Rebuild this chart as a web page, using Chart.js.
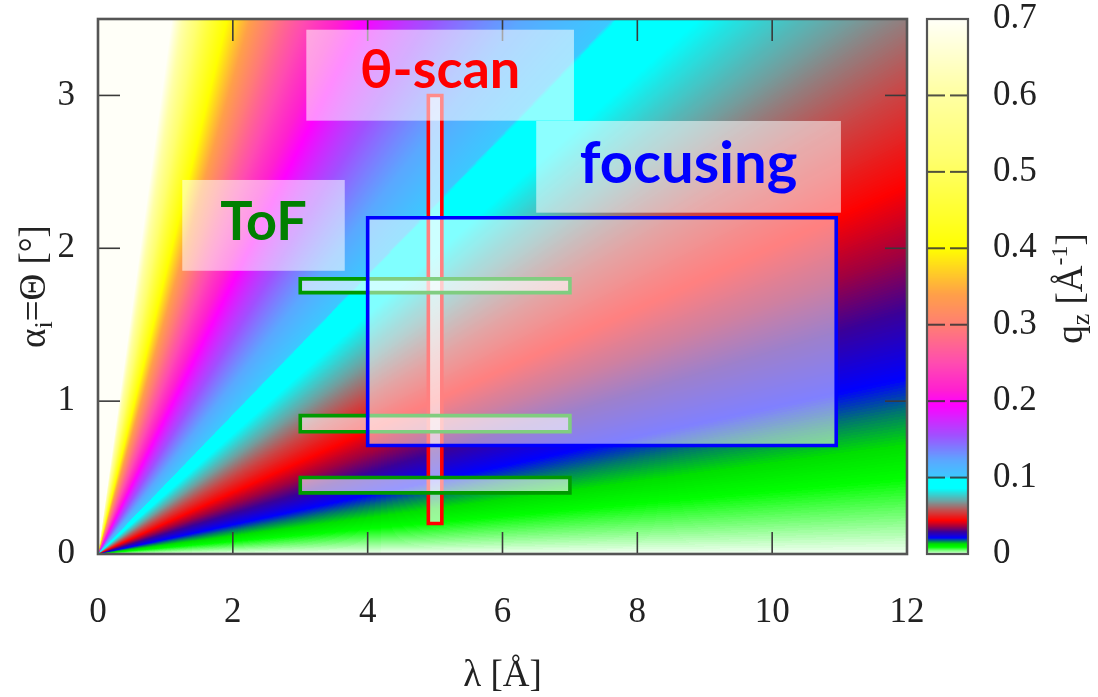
<!DOCTYPE html>
<html>
<head>
<meta charset="utf-8">
<script src="https://cdn.jsdelivr.net/npm/chart.js@4.4.1/dist/chart.umd.min.js"></script>
<style>
  html, body { margin: 0; padding: 0; background: #ffffff; }
  canvas { display: block; }
</style>
</head>
<body>
<canvas id="qzChart" width="1098" height="697"></canvas>
<script>
// ---- axes -----------------------------------------------------------
const lambdaRange = [0, 12];                 // λ [Å]
const lambdaTicks = [0, 2, 4, 6, 8, 10, 12];
const alphaRange = [0, 3.5];                 // α_i = Θ [°]
const alphaTicks = [0, 1, 2, 3];
const qzRange = [0, 0.7];                    // q_z [Å^-1]
const qzTicks = [0, 0.1, 0.2, 0.3, 0.4, 0.5, 0.6, 0.7];

// ---- measurement modes (λ interval × α interval) ---------------------
const thetaScanLambda = [4.9, 5.1];
const thetaScanAlpha = [0.2, 3.0];
const tofLambda = [3, 7];
const tofAlphaBands = [[1.71, 1.80], [0.80, 0.905], [0.40, 0.50]];
const focusingLambda = [4, 10.95];
const focusingAlpha = [0.71, 2.2];

const modeNames = ['θ-scan', 'ToF', 'focusing'];

// ---- colour palette for q_z -------------------------------------------
const paletteStops = [0, 0.009, 0.013, 0.017, 0.021, 0.029, 0.036, 0.044, 0.056, 0.069, 0.086, 0.0995,
                      0.1005, 0.122, 0.155, 0.195, 0.215, 0.250, 0.295, 0.340, 0.400, 0.440, 0.520,
                      0.610, 0.700];
const paletteColors = ['#f4fff4', '#00ff00', '#00e000', '#007a6a', '#0000ff', '#3a0098', '#a00040',
                       '#ff0000', '#c84848', '#70a0a0', '#00ffff', '#00ffff', '#3cc8ff', '#5aa8ff',
                       '#a050ff', '#ff00ff', '#ff20d0', '#ff4cb0', '#ff7a78', '#ffa048', '#ffff00',
                       '#ffff28', '#ffff70', '#ffffa8', '#fffff8'];

// momentum transfer for reflection geometry
function qz(lambda, alphaDeg) {
  return 4 * Math.PI * Math.sin(alphaDeg * Math.PI / 180) / lambda;
}

function hexToRgb(h) {
  return [parseInt(h.slice(1, 3), 16), parseInt(h.slice(3, 5), 16), parseInt(h.slice(5, 7), 16)];
}
const LUT_SIZE = 2048;
const paletteLut = (() => {
  const rgb = paletteColors.map(hexToRgb);
  const lut = new Uint8ClampedArray(LUT_SIZE * 3);
  for (let i = 0; i < LUT_SIZE; i++) {
    const v = qzRange[0] + (qzRange[1] - qzRange[0]) * i / (LUT_SIZE - 1);
    let k = 0;
    while (k < paletteStops.length - 2 && v > paletteStops[k + 1]) k++;
    const t = Math.min(1, Math.max(0, (v - paletteStops[k]) / (paletteStops[k + 1] - paletteStops[k])));
    for (let c = 0; c < 3; c++) lut[i * 3 + c] = rgb[k][c] + (rgb[k + 1][c] - rgb[k][c]) * t;
  }
  return lut;
})();
function colourIndex(v) {
  if (!isFinite(v)) v = qzRange[1];
  const t = (v - qzRange[0]) / (qzRange[1] - qzRange[0]);
  return Math.round(Math.min(1, Math.max(0, t)) * (LUT_SIZE - 1)) * 3;
}

// ---- rectangles as closed line datasets -------------------------------
const rectPoints = (xr, yr) => [
  {x: xr[0], y: yr[0]}, {x: xr[1], y: yr[0]}, {x: xr[1], y: yr[1]},
  {x: xr[0], y: yr[1]}, {x: xr[0], y: yr[0]}
];
const boxStyle = (colour, fillAlpha, order) => ({
  showLine: true, fill: 'shape', borderColor: colour,
  backgroundColor: `rgba(255,255,255,${fillAlpha})`, borderWidth: 3.6,
  pointRadius: 0, pointHoverRadius: 0, tension: 0,
  borderJoinStyle: 'miter', borderCapStyle: 'square', order
});

const datasets = [
  {label: modeNames[0], data: rectPoints(thetaScanLambda, thetaScanAlpha), ...boxStyle('#ff0000', 0.6, 3)},
  ...tofAlphaBands.map(band => ({label: modeNames[1], data: rectPoints(tofLambda, band), ...boxStyle('#009a00', 0.6, 2)})),
  {label: modeNames[2], data: rectPoints(focusingLambda, focusingAlpha), ...boxStyle('#0000ff', 0.5, 1)}
];

// ---- mode captions (boxes in data units) -------------------------------
const captions = [
  {text: modeNames[0], x: [3.09, 7.06], y: [2.835, 3.43], base: 3.049, size: 54, colour: '#ff0000'},
  {text: modeNames[1], x: [1.25, 3.66], y: [1.853, 2.447], base: 2.054, size: 54, colour: '#008000'},
  {text: modeNames[2], x: [6.50, 11.02], y: [2.233, 2.833], base: 2.425, size: 58, colour: '#0000ff'}
];

const SERIF = '"Liberation Serif", "Times New Roman", serif';
const TICK_FONT = {family: SERIF, size: 35, lineHeight: 1.2};
const TICK_COLOUR = '#222222';

function line(ctx, x0, y0, x1, y1) {
  ctx.beginPath(); ctx.moveTo(x0, y0); ctx.lineTo(x1, y1); ctx.stroke();
}

// heat map, frame, inward tick marks and colour bar
const mapPlugin = {
  id: 'qzMap',
  beforeDatasetsDraw(chart) {
    const {ctx, chartArea: a, scales} = chart;
    const xs = scales.x, ys = scales.y, cb = scales.cb;
    const w = Math.round(a.right - a.left), h = Math.round(a.bottom - a.top);
    const off = document.createElement('canvas');
    off.width = w; off.height = h;
    const octx = off.getContext('2d');
    const img = octx.createImageData(w, h);
    const lam = new Float64Array(w);
    for (let i = 0; i < w; i++) lam[i] = xs.getValueForPixel(a.left + i + 0.5);
    for (let j = 0; j < h; j++) {
      const alpha = ys.getValueForPixel(a.top + j + 0.5);
      for (let i = 0; i < w; i++) {
        const c = colourIndex(qz(lam[i], alpha));
        const k = (j * w + i) * 4;
        img.data[k] = paletteLut[c]; img.data[k + 1] = paletteLut[c + 1];
        img.data[k + 2] = paletteLut[c + 2]; img.data[k + 3] = 255;
      }
    }
    octx.putImageData(img, 0, 0);
    ctx.drawImage(off, a.left, a.top);

    ctx.save();
    // inward ticks on all four sides
    ctx.strokeStyle = '#3a3a3a'; ctx.lineWidth = 1.6;
    const TL = 22;
    xs.ticks.forEach(t => {
      if (t.value <= lambdaRange[0] || t.value >= lambdaRange[1]) return;
      const px = xs.getPixelForValue(t.value);
      line(ctx, px, a.bottom, px, a.bottom - TL);
      line(ctx, px, a.top, px, a.top + TL);
    });
    ys.ticks.forEach(t => {
      if (t.value <= alphaRange[0] || t.value >= alphaRange[1]) return;
      const py = ys.getPixelForValue(t.value);
      line(ctx, a.left, py, a.left + TL, py);
      line(ctx, a.right, py, a.right - TL, py);
    });
    ctx.strokeStyle = '#555555'; ctx.lineWidth = 2.6;
    ctx.strokeRect(a.left, a.top, a.right - a.left, a.bottom - a.top);

    // colour bar
    const bx0 = Math.round(a.right + 20), bx1 = Math.round(a.right + 61);
    const bh = Math.round(cb.bottom - cb.top);
    const bar = document.createElement('canvas');
    bar.width = bx1 - bx0; bar.height = bh;
    const bctx = bar.getContext('2d');
    const bimg = bctx.createImageData(bar.width, bh);
    for (let j = 0; j < bh; j++) {
      const c = colourIndex(cb.getValueForPixel(cb.top + j + 0.5));
      for (let i = 0; i < bar.width; i++) {
        const k = (j * bar.width + i) * 4;
        bimg.data[k] = paletteLut[c]; bimg.data[k + 1] = paletteLut[c + 1];
        bimg.data[k + 2] = paletteLut[c + 2]; bimg.data[k + 3] = 255;
      }
    }
    bctx.putImageData(bimg, 0, 0);
    ctx.drawImage(bar, bx0, cb.top);
    ctx.strokeStyle = 'rgba(50,50,50,0.85)'; ctx.lineWidth = 2;
    cb.ticks.forEach(t => {
      if (t.value <= qzRange[0] || t.value >= qzRange[1] - 1e-9) return;
      const py = cb.getPixelForValue(t.value);
      line(ctx, bx0, py, bx0 + 18, py);
      line(ctx, bx1 - 18, py, bx1, py);
    });
    ctx.strokeStyle = '#555555'; ctx.lineWidth = 2.2;
    ctx.strokeRect(bx0, cb.top, bx1 - bx0, cb.bottom - cb.top);
    ctx.restore();
  },
  afterDatasetsDraw(chart) {
    const {ctx, chartArea: a, scales: {x: xs, y: ys}} = chart;
    ctx.save();
    ctx.beginPath(); ctx.rect(a.left, a.top, a.right - a.left, a.bottom - a.top); ctx.clip();
    captions.forEach(c => {
      const x0 = xs.getPixelForValue(c.x[0]), x1 = xs.getPixelForValue(c.x[1]);
      const y0 = ys.getPixelForValue(c.y[1]), y1 = ys.getPixelForValue(c.y[0]);
      ctx.fillStyle = 'rgba(255,255,255,0.55)';
      ctx.fillRect(x0, y0, x1 - x0, y1 - y0);
      ctx.fillStyle = c.colour;
      ctx.font = `bold ${c.size}px Lato, "Open Sans", sans-serif`;
      ctx.textAlign = 'center'; ctx.textBaseline = 'alphabetic';
      ctx.fillText(c.text, (x0 + x1) / 2, ys.getPixelForValue(c.base));
    });
    ctx.restore();
  },
  afterDraw(chart) {
    const {ctx, chartArea: a} = chart;
    const cy = (a.top + a.bottom) / 2;
    drawRich(ctx, [{t: 'λ [Å]', s: 37}], (a.left + a.right) / 2, a.bottom + 132, 0);
    drawRich(ctx, [{t: 'α', s: 37}, {t: 'i', s: 26, dy: 7}, {t: '=Θ [°]', s: 37}], 45, cy, -Math.PI / 2);
    drawRich(ctx, [{t: 'q', s: 37}, {t: 'z', s: 26, dy: 7}, {t: ' [Å', s: 37}, {t: '-1', s: 24, dy: -15}, {t: ']', s: 37}],
             a.right + 175, cy + 2, -Math.PI / 2);
  }
};

// text with sub/superscripts, centred on (x, y) baseline
function drawRich(ctx, parts, x, y, angle) {
  ctx.save();
  ctx.translate(x, y);
  ctx.rotate(angle);
  ctx.fillStyle = TICK_COLOUR;
  ctx.textAlign = 'left'; ctx.textBaseline = 'alphabetic';
  let total = 0;
  parts.forEach(p => { ctx.font = `${p.s}px ${SERIF}`; p.w = ctx.measureText(p.t).width; total += p.w; });
  let cx = -total / 2;
  parts.forEach(p => { ctx.font = `${p.s}px ${SERIF}`; ctx.fillText(p.t, cx, p.dy || 0); cx += p.w; });
  ctx.restore();
}

const fixedTicks = values => scale => { scale.ticks = values.map(v => ({value: v})); };

new Chart(document.getElementById('qzChart'), {
  type: 'scatter',
  data: {datasets},
  options: {
    responsive: false,
    animation: false,
    devicePixelRatio: 1,
    layout: {padding: {top: 19, left: 0, right: 0, bottom: 0}},
    plugins: {legend: {display: false}, tooltip: {enabled: false}},
    scales: {
      x: {
        type: 'linear', position: 'bottom', min: lambdaRange[0], max: lambdaRange[1],
        grid: {display: false, drawTicks: false}, border: {display: false},
        ticks: {font: TICK_FONT, color: TICK_COLOUR, padding: 38, maxRotation: 0, autoSkip: false,
                callback: v => String(v)},
        afterBuildTicks: fixedTicks(lambdaTicks),
        afterFit: s => { s.height = 143; s.paddingLeft = 0; s.paddingRight = 0; }
      },
      y: {
        type: 'linear', position: 'left', min: alphaRange[0], max: alphaRange[1],
        grid: {display: false, drawTicks: false}, border: {display: false},
        ticks: {font: TICK_FONT, color: TICK_COLOUR, padding: 23, autoSkip: false,
                callback: v => String(v)},
        afterBuildTicks: fixedTicks(alphaTicks),
        afterFit: s => { s.width = 98; s.paddingTop = 0; s.paddingBottom = 0; }
      },
      cb: {
        type: 'linear', position: 'right', min: qzRange[0], max: qzRange[1],
        grid: {display: false, drawTicks: false}, border: {display: false},
        ticks: {font: TICK_FONT, color: TICK_COLOUR, padding: 86, autoSkip: false,
                callback: v => String(v)},
        afterBuildTicks: fixedTicks(qzTicks),
        afterFit: s => { s.width = 191; s.paddingTop = 0; s.paddingBottom = 0; }
      }
    }
  },
  plugins: [mapPlugin]
});
</script>
</body>
</html>
